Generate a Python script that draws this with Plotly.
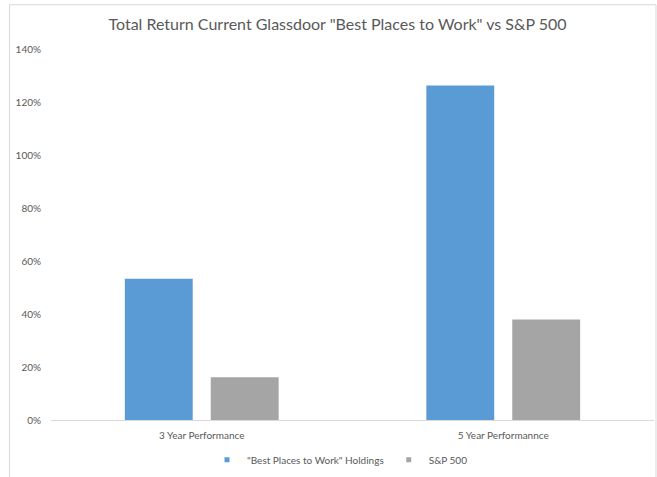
import plotly.graph_objects as go

categories = ["3 Year Performance", "5 Year Performannce"]
best_places = [0.533, 1.262]
sp500 = [0.161, 0.379]
series_names = ['"Best Places to Work" Holdings', "S&P 500"]
colors = ["#5B9BD5", "#A5A5A5"]
tick_vals = [0, 0.2, 0.4, 0.6, 0.8, 1.0, 1.2, 1.4]

W, H = 657, 477
L, R, T, B = 51, 3, 49, 55
pw, ph = W - L - R, H - T - B
FONT = "Lato, 'Open Sans', sans-serif"
TXT = "#595959"

fig = go.Figure()
for name, vals, col in zip(series_names, [best_places, sp500], colors):
    fig.add_trace(go.Bar(x=categories, y=vals, name=name, marker=dict(color=col, line=dict(width=0)),
                         showlegend=False))
    fig.add_trace(go.Scatter(x=[None], y=[None], mode="markers", name=name,
                             marker=dict(symbol="square", size=5, color=col)))

def px_x(p):
    return (p - L) / pw

def px_y(p):
    return (H - B - p) / ph

border = "#D9D9D9"
fig.add_shape(type="line", xref="paper", yref="paper", x0=px_x(9), x1=px_x(656), y0=px_y(4.5), y1=px_y(4.5),
              line=dict(color=border, width=1))
fig.add_shape(type="line", xref="paper", yref="paper", x0=px_x(9.5), x1=px_x(9.5), y0=px_y(4.5), y1=px_y(480),
              line=dict(color=border, width=1))
fig.add_shape(type="line", xref="paper", yref="paper", x0=px_x(656), x1=px_x(656), y0=px_y(4.5), y1=px_y(480),
              line=dict(color=border, width=1))

fig.update_layout(
    width=W, height=H,
    margin=dict(l=L, r=R, t=T, b=B, pad=0),
    paper_bgcolor="white", plot_bgcolor="white",
    barmode="group", bargap=0.43, bargroupgap=0.21,
    font=dict(family=FONT, color=TXT, size=10),
    title=dict(text='Total Return Current Glassdoor "Best Places to Work" vs S&P 500',
               x=337.5 / W, xref="container", xanchor="center", y=1 - 24 / H, yref="container", yanchor="middle",
               font=dict(family=FONT, size=16, color=TXT)),
    xaxis=dict(showline=True, linecolor="#D9D9D9", linewidth=1, ticks="", showgrid=False,
               tickfont=dict(size=10, color=TXT), ticklabelstandoff=6),
    yaxis=dict(range=[0, 1.4], tickvals=tick_vals, tickformat=".0%", showgrid=False, zeroline=False,
               showline=False, ticks="", tickfont=dict(size=10, color=TXT), ticklabelstandoff=9),
    legend=dict(orientation="h", x=px_x(340), xanchor="center", y=px_y(462), yanchor="middle",
                font=dict(size=10, color=TXT), itemwidth=30, tracegroupgap=0),
    showlegend=True,
)

fig.write_html("out.html")
